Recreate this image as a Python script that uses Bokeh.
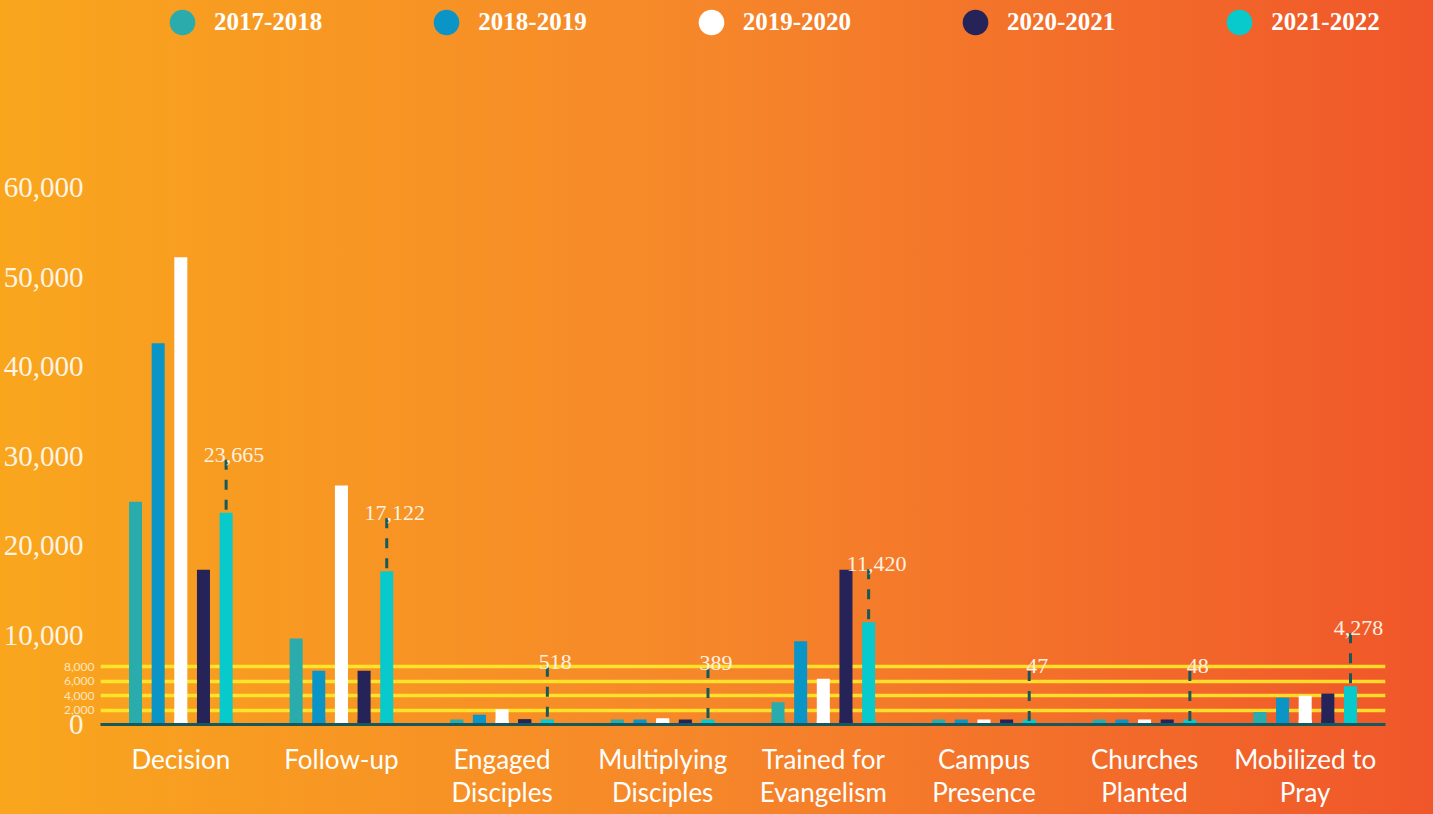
from bokeh.plotting import figure
from bokeh.models import (ColumnDataSource, FactorRange, Range1d, LinearAxis,
                          FixedTicker, NumeralTickFormatter, Legend, LegendItem, CustomJSTickFormatter)
from bokeh.transform import dodge
from bokeh.core.properties import value
from bokeh.embed import file_html
from bokeh.resources import INLINE

# ---------------- data ----------------
categories = ["Decision", "Follow-up", "Engaged Disciples", "Multiplying Disciples",
              "Trained for Evangelism", "Campus Presence", "Churches Planted", "Mobilized to Pray"]
tick_labels = ["Decision", "Follow-up", "Engaged\nDisciples", "Multiplying\nDisciples",
               "Trained for\nEvangelism", "Campus\nPresence", "Churches\nPlanted", "Mobilized to\nPray"]
years = ["2017-2018", "2018-2019", "2019-2020", "2020-2021", "2021-2022"]
v_2017_2018 = [24900, 9600, 450, 330, 2500, 44, 45, 1400]
v_2018_2019 = [42600, 6000, 1100, 340, 9300, 45, 46, 3000]
v_2019_2020 = [52200, 26700, 1700, 700, 5100, 46, 47, 3200]
v_2020_2021 = [17300, 6000, 600, 330, 17300, 46, 47, 3450]
v_2021_2022 = [23665, 17122, 518, 389, 11420, 47, 48, 4278]
y_ticks = [0, 10000, 20000, 30000, 40000, 50000, 60000]
inset_ticks = [2000, 4000, 6000, 8000]

# ---------------- style ----------------
colors = ["#2aacad", "#0b95c6", "#ffffff", "#262358", "#08c9cc"]
offsets = [-0.282, -0.141, 0.0, 0.141, 0.282]
BAR_W = 0.081
W, H = 1433, 814
BORDER_L, BORDER_R, BORDER_T, BORDER_B = 100, 48, 0, 90
FRAME_H = H - BORDER_T - BORDER_B
Y_END = 80900
INSET_END = 100700
DASH_PX = 53
DARK = "#17595b"
XFONT = "Lato"

series = [v_2017_2018, v_2018_2019, v_2019_2020, v_2020_2021, v_2021_2022]
data = {"category": categories}
for yr, vals in zip(years, series):
    data[yr] = vals
data["dash_top"] = [v + DASH_PX * Y_END / FRAME_H for v in v_2021_2022]
data["label"] = [f"{v:,}" for v in v_2021_2022]
src = ColumnDataSource(data)

p = figure(width=W, height=H, x_range=FactorRange(*categories), y_range=Range1d(0, Y_END),
           output_backend="svg", toolbar_location=None, y_axis_location=None,
           min_border_left=BORDER_L, min_border_right=BORDER_R,
           min_border_top=BORDER_T, min_border_bottom=BORDER_B)
p.extra_y_ranges = {"inset": Range1d(0, INSET_END)}
p.background_fill_color = None
p.border_fill_color = None
p.outline_line_color = None
p.xgrid.visible = False
p.ygrid.visible = False
p.styles = {"background": "linear-gradient(90deg, #f9a61d 0%, #f6862a 50%, #f0562a 100%)"}

# inset reference lines
p.hspan(y=inset_ticks, y_range_name="inset", line_color="#fff12c", line_width=3.5, line_alpha=0.85)

# bars (with a minimum visible stub)
for yr, c, off in zip(years, colors, offsets):
    xs = dodge("category", off, range=p.x_range)
    p.rect(x=xs, y=0, width=BAR_W, height=10, height_units="screen", source=src,
           fill_color=c, line_color=None)
    p.vbar(x=xs, top=yr, width=BAR_W, source=src, fill_color=c, line_color=None)

# dashed leaders and value labels for latest year
x_last = dodge("category", offsets[-1], range=p.x_range)
p.segment(x0=x_last, y0="dash_top", x1=x_last, y1="2021-2022", source=src,
          line_color=DARK, line_width=3, line_dash="10 10")
p.text(x=x_last, y="2021-2022", text="label", source=src, x_offset=8, y_offset=-58,
       text_align="center", text_baseline="alphabetic", text_font=value("Liberation Serif"),
       text_font_size="22px", text_color="#fdf1e2")

# legend (circle markers)
items = []
for yr, c, off in zip(years, colors, offsets):
    r = p.scatter(x=dodge("category", off, range=p.x_range), y=yr, source=src, marker="circle",
                  size=4, fill_color=c, line_color=None, visible=False)
    items.append(LegendItem(label=yr, renderers=[r]))
legend = Legend(items=items, orientation="horizontal", location=(50, FRAME_H + 11 - 66),
                glyph_width=64, glyph_height=66, label_standoff=0, spacing=92,
                padding=0, margin=0, border_line_color=None, background_fill_alpha=0,
                label_text_font="Liberation Serif", label_text_font_style="bold",
                label_text_font_size="25px", label_text_color="#ffffff")
p.add_layout(legend)

# x axis with two-line category labels
LABEL_JS = "const i = cats.indexOf(tick); return i >= 0 ? lines[i] : tick;"
xa = p.xaxis[0]
xa.axis_line_color = DARK
xa.axis_line_width = 3
xa.major_tick_line_color = None
xa.minor_tick_line_color = None
xa.major_tick_out = 0
xa.major_tick_in = 0
xa.major_label_standoff = 18
xa.major_label_text_font = XFONT
xa.major_label_text_font_size = "26px"
xa.major_label_text_color = "#ffffff"
xa.major_label_text_line_height = 1.06
xa.formatter = CustomJSTickFormatter(args=dict(cats=categories, lines=tick_labels), code=LABEL_JS)

# y axes: small inset axis next to the frame, main axis outside
inset_axis = LinearAxis(y_range_name="inset", ticker=FixedTicker(ticks=inset_ticks),
                        formatter=NumeralTickFormatter(format="0,0"),
                        axis_line_color=None, major_tick_line_color=None, minor_tick_line_color=None,
                        major_tick_out=0, major_tick_in=0,
                        major_label_standoff=6, major_label_text_font="Lato",
                        major_label_text_font_size="12px", major_label_text_color="#fde6c0")
main_axis = LinearAxis(ticker=FixedTicker(ticks=y_ticks), formatter=NumeralTickFormatter(format="0,0"),
                       axis_line_color=None, major_tick_line_color=None, minor_tick_line_color=None,
                       major_tick_out=0, major_tick_in=0,
                       major_label_standoff=-23, major_label_text_font="Liberation Serif",
                       major_label_text_font_size="29px", major_label_text_color="#fff4e4")
p.add_layout(inset_axis, "left")
p.add_layout(main_axis, "left")

open("out.html", "w").write(file_html(p, INLINE))
